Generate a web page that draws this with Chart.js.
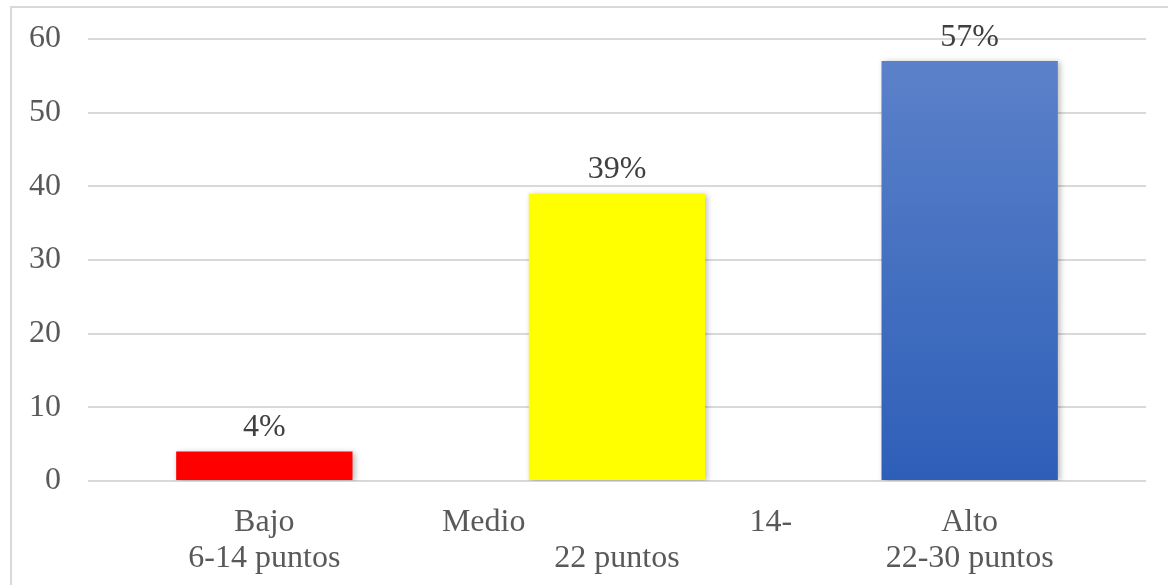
<!DOCTYPE html>
<html>
<head>
<meta charset="utf-8">
<script src="https://cdn.jsdelivr.net/npm/chart.js@4"></script>
<style>
  html, body { margin: 0; padding: 0; background: #fff; }
  #wrap { width: 1168px; height: 585px; }
</style>
</head>
<body>
<div id="wrap"><canvas id="myChart" width="1168" height="585"></canvas></div>
<script>
var categories = [
    ['Bajo', '6-14 puntos'],
    ['Medio                            14-', '22 puntos'],
    ['Alto', '22-30 puntos']
];
var percentages = [4, 39, 57];
var yTicks = [0, 10, 20, 30, 40, 50, 60];
var barColors = ['#ff0000', '#ffff00', null];

var serif = "'Liberation Serif', 'Times New Roman', serif";

// blue bar goes from lighter at the top to darker at the base
function blueFill(ctx) {
    var chart = ctx.chart;
    var area = chart.chartArea;
    if (!area) return '#4472c4';
    var yTop = chart.scales.y.getPixelForValue(ctx.raw);
    var g = chart.ctx.createLinearGradient(0, yTop, 0, area.bottom);
    g.addColorStop(0, '#5b81c9');
    g.addColorStop(1, '#2e5fb8');
    return g;
}

var framePlugin = {
    id: 'frame',
    beforeDraw: function (chart) {
        var c = chart.ctx;
        c.save();
        c.fillStyle = '#fff';
        c.fillRect(0, 0, chart.width, chart.height);
        c.strokeStyle = '#d9d9d9';
        c.lineWidth = 2;
        c.strokeRect(11, 7, chart.width + 20, chart.height + 20);
        c.restore();
    }
};

var shadowPlugin = {
    id: 'barShadow',
    beforeDatasetDraw: function (chart) {
        var c = chart.ctx;
        c.save();
        c.shadowColor = 'rgba(0,0,0,0.28)';
        c.shadowBlur = 6;
        c.shadowOffsetX = 2;
        c.shadowOffsetY = 1;
    },
    afterDatasetDraw: function (chart) {
        chart.ctx.restore();
    }
};

var valueLabels = {
    id: 'valueLabels',
    afterDatasetsDraw: function (chart) {
        var c = chart.ctx;
        var meta = chart.getDatasetMeta(0);
        c.save();
        c.font = '32px ' + serif;
        c.fillStyle = '#404040';
        c.textAlign = 'center';
        c.textBaseline = 'bottom';
        meta.data.forEach(function (bar, i) {
            c.fillText(percentages[i] + '%', bar.x, bar.y - 8);
        });
        c.restore();
    }
};

var testChart = new Chart('myChart', {
    type: 'bar',
    data: {
        labels: categories,
        datasets: [{
            data: percentages,
            backgroundColor: function (ctx) {
                return barColors[ctx.dataIndex] || blueFill(ctx);
            },
            borderWidth: 0,
            barPercentage: 0.5,
            categoryPercentage: 1
        }]
    },
    options: {
        responsive: false,
        animation: false,
        layout: {
            padding: { top: 39, right: 22, left: 0, bottom: 0 }
        },
        plugins: {
            legend: { display: false },
            tooltip: { enabled: false }
        },
        scales: {
            x: {
                grid: { display: false },
                border: { display: false },
                ticks: {
                    color: '#595959',
                    font: { family: serif, size: 32, lineHeight: 1.12 },
                    padding: 16,
                    maxRotation: 0,
                    autoSkip: false
                },
                afterFit: function (scale) { scale.height = 104; }
            },
            y: {
                min: 0,
                max: 60,
                afterBuildTicks: function (scale) {
                    scale.ticks = yTicks.map(function (v) { return { value: v }; });
                },
                grid: { color: '#d9d9d9', lineWidth: 2, drawTicks: false },
                border: { display: false },
                ticks: {
                    color: '#595959',
                    font: { family: serif, size: 32 },
                    padding: 27
                },
                afterFit: function (scale) {
                    scale.width = 88;
                    scale.paddingTop = 0;
                    scale.paddingBottom = 0;
                }
            }
        }
    },
    plugins: [framePlugin, shadowPlugin, valueLabels]
});
</script>
</body>
</html>
